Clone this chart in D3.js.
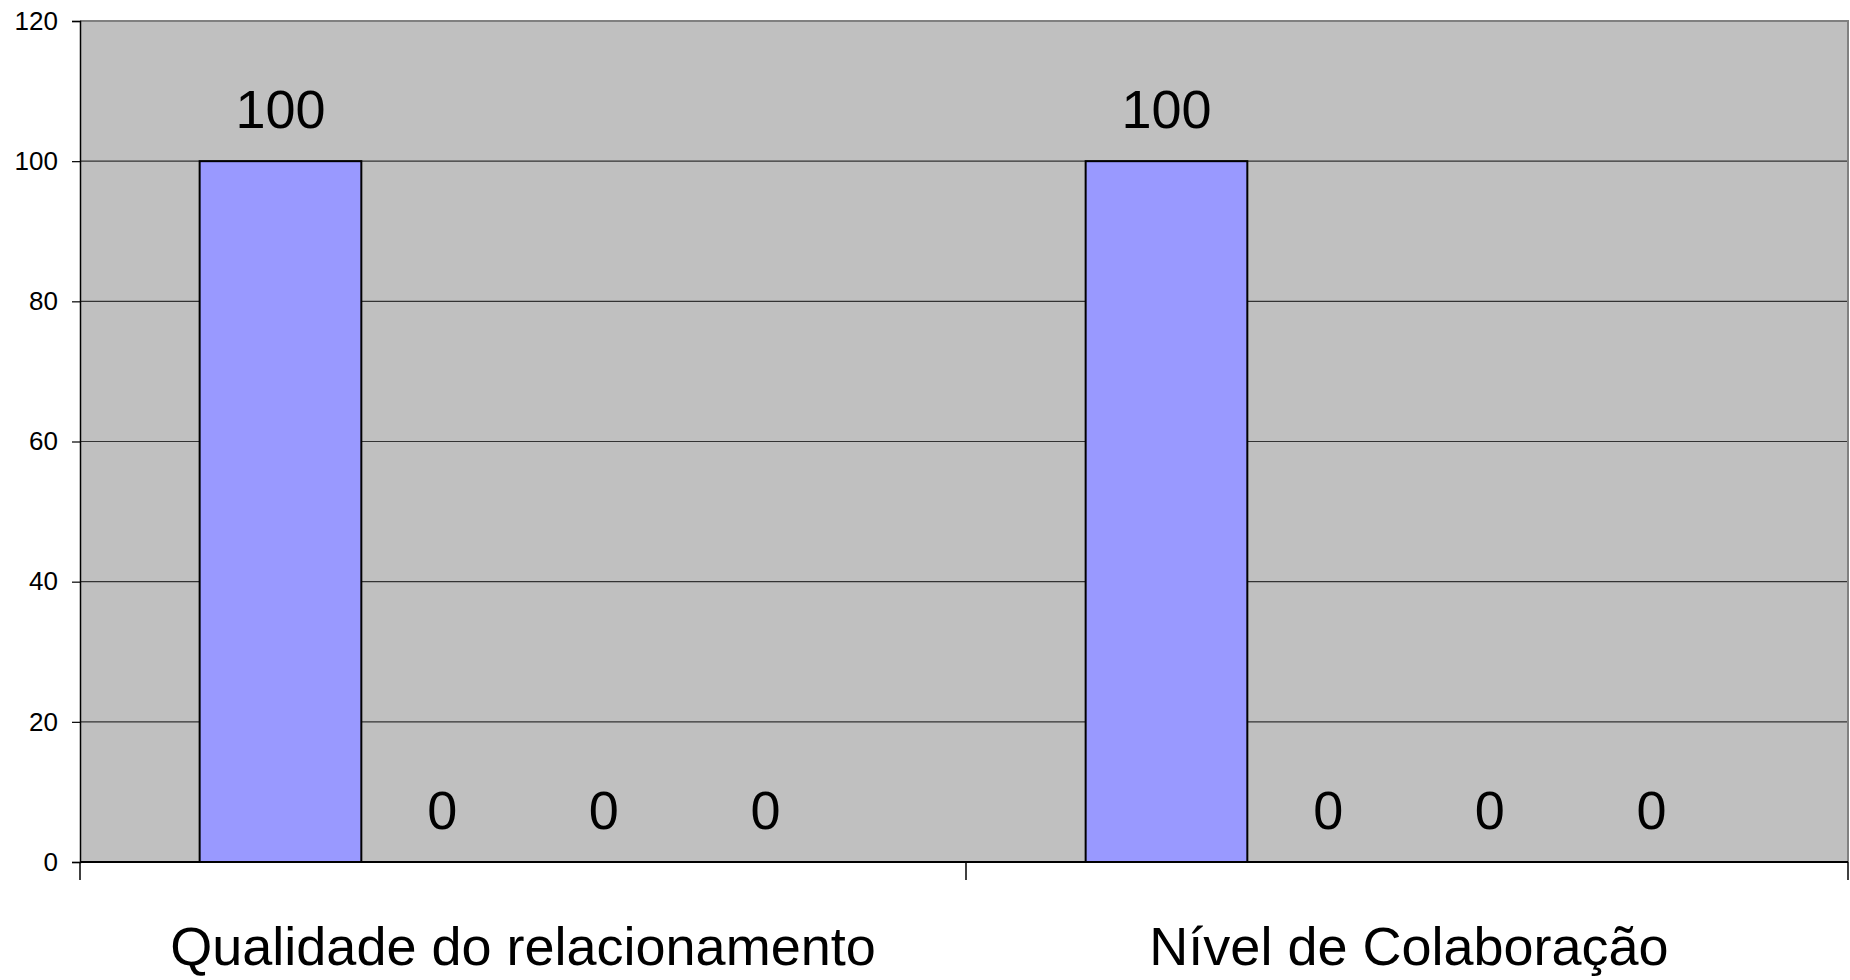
<!DOCTYPE html>
<html>
<head>
<meta charset="utf-8">
<script src="https://cdn.jsdelivr.net/npm/d3@7"></script>
<style>
  html, body { margin: 0; padding: 0; background: #fff; }
  svg { display: block; font-family: 'Liberation Sans', Arial, sans-serif; }
</style>
</head>
<body>
<div id="container"></div>
<script>
const categories = ['Qualidade do relacionamento', 'Nível de Colaboração'];
const seriesNames = ['s1', 's2', 's3', 's4'];
const values = [
  [100, 0, 0, 0],
  [100, 0, 0, 0],
];
const yTicks = [0, 20, 40, 60, 80, 100, 120];

const width = 1850; const height = 980;
const margin = {top: 21, right: -2, bottom: 118, left: 80};
const innerW = width - margin.left - margin.right;
const innerH = height - margin.top - margin.bottom;
const plotRight = width - 2 - margin.left; // visible right border

const svg = d3.select('#container').append('svg')
    .attr('width', width)
    .attr('height', height);

const g = svg.append('g').attr('transform', 'translate(' + margin.left + ',' + margin.top + ')');

const x0 = d3.scaleBand().domain(categories).range([0, innerW]);
const x1 = d3.scaleBand().domain(seriesNames)
    .range([0, x0.bandwidth()])
    .paddingOuter(0.74).paddingInner(0);
const y = d3.scaleLinear().domain([0, 120]).range([innerH, 0]);

// plot area
g.append('rect').attr('width', plotRight).attr('height', innerH).attr('fill', '#c0c0c0');

// gridlines
g.append('g').selectAll('line').data(yTicks.filter((t) => t > 0 && t < 120)).enter().append('line')
    .attr('x1', 0).attr('x2', plotRight)
    .attr('y1', (d) => y(d)).attr('y2', (d) => y(d))
    .attr('stroke', '#333').attr('stroke-width', 1.2);

// border top/right
g.append('path')
    .attr('d', 'M0,' + y(120) + 'H' + plotRight + 'V' + y(0))
    .attr('fill', 'none').attr('stroke', '#808080').attr('stroke-width', 2);

// bars
const groups = g.append('g').selectAll('g').data(categories).enter().append('g')
    .attr('transform', (d) => 'translate(' + x0(d) + ',0)');

groups.selectAll('rect').data((d, i) => values[i].map((v, j) => ({k: seriesNames[j], v: v})))
    .enter().append('rect')
    .attr('x', (d) => x1(d.k))
    .attr('width', x1.bandwidth())
    .attr('y', (d) => y(d.v))
    .attr('height', (d) => y(0) - y(d.v))
    .attr('fill', '#9999ff')
    .attr('stroke', (d) => d.v > 0 ? '#000' : 'none')
    .attr('stroke-width', 2);

groups.selectAll('text').data((d, i) => values[i].map((v, j) => ({k: seriesNames[j], v: v})))
    .enter().append('text')
    .attr('x', (d) => x1(d.k) + x1.bandwidth() / 2)
    .attr('y', (d) => y(d.v) - 33)
    .attr('text-anchor', 'middle')
    .attr('font-size', 54)
    .attr('fill', '#000')
    .text((d) => d.v);

// y axis
const yAxis = g.append('g').call(d3.axisLeft(y).tickValues(yTicks).tickSize(8).tickPadding(14));
yAxis.select('.domain').attr('stroke', '#000').attr('stroke-width', 1.5);
yAxis.selectAll('.tick line').attr('stroke', '#000').attr('stroke-width', 1.2);
yAxis.selectAll('.tick text').attr('font-size', 26).attr('fill', '#000')
    .attr('font-family', "'Liberation Sans', Arial, sans-serif");

// x axis
const xAxisG = g.append('g').attr('transform', 'translate(0,' + innerH + ')');
xAxisG.append('line').attr('x1', 0).attr('x2', plotRight).attr('stroke', '#000').attr('stroke-width', 2);
const xEdges = [0, x0(categories[1]), plotRight];
xAxisG.selectAll('.xt').data(xEdges).enter().append('line')
    .attr('x1', (d) => d).attr('x2', (d) => d)
    .attr('y1', 0).attr('y2', 18)
    .attr('stroke', '#000').attr('stroke-width', 1.5);
xAxisG.selectAll('text').data(categories).enter().append('text')
    .attr('x', (d) => x0(d) + x0.bandwidth() / 2)
    .attr('y', 103)
    .attr('text-anchor', 'middle')
    .attr('font-size', 54)
    .attr('fill', '#000')
    .text((d) => d);
</script>
</body>
</html>
